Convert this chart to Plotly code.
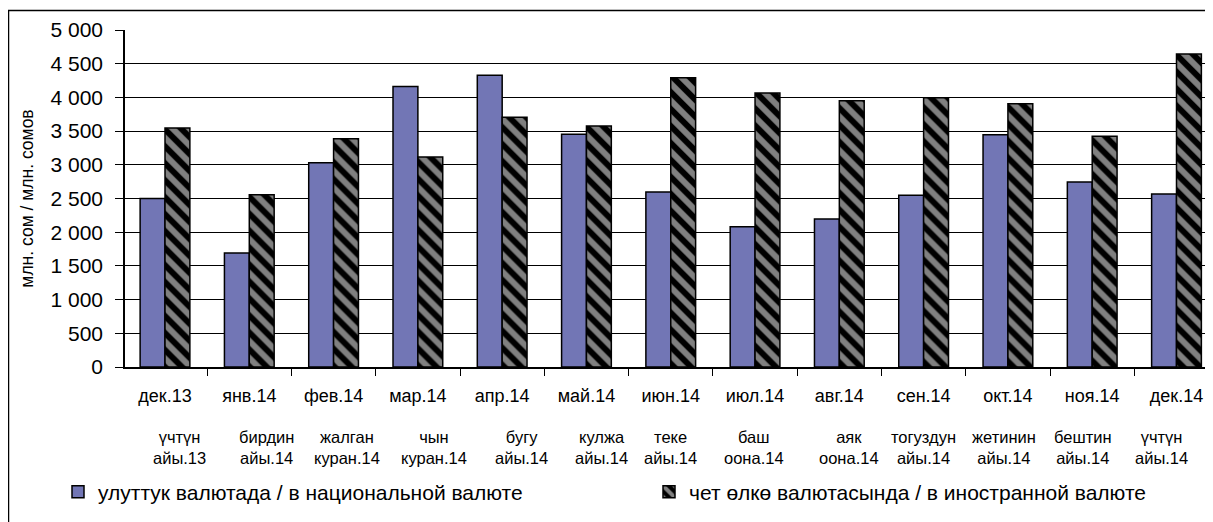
import plotly.graph_objects as go

# ---------------- data ----------------
months = ["дек.13", "янв.14", "фев.14", "мар.14", "апр.14", "май.14", "июн.14",
          "июл.14", "авг.14", "сен.14", "окт.14", "ноя.14", "дек.14"]
months_kg_1 = ["үчтүн", "бирдин", "жалган", "чын", "бугу", "кулжа", "теке",
               "баш", "аяк", "тогуздун", "жетинин", "бештин", "үчтүн"]
months_kg_2 = ["айы.13", "айы.14", "куран.14", "куран.14", "айы.14", "айы.14", "айы.14",
               "оона.14", "оона.14", "айы.14", "айы.14", "айы.14", "айы.14"]
national = [2500, 1690, 3030, 4160, 4330, 3455, 2595, 2080, 2195, 2550, 3445, 2745, 2565]
foreign = [3545, 2555, 3385, 3115, 3705, 3575, 4290, 4065, 3950, 3995, 3905, 3425, 4645]
name_national = "улуттук валютада / в национальной валюте"
name_foreign = "чет өлкө валютасында / в иностранной валюте"
y_title = "млн. сом / млн. сомов"
y_ticks = [0, 500, 1000, 1500, 2000, 2500, 3000, 3500, 4000, 4500, 5000]

# ---------------- layout constants ----------------
OFF = 8                      # page body margin
W, H = 1213, 522
L, R, T, B = 117, 0, 22, 163
PW, PH = W - L - R, H - T - B
FONT = "Liberation Sans, Arial, sans-serif"


def rx(p):
    """paper x for a screen pixel p"""
    return ((p - OFF) - L) / PW


def ry(p):
    """paper y for a screen pixel p"""
    return ((H - B) - (p - OFF)) / PH


# second-row label nudges (pixels)
row2_nudge = [14, 17, 13, 16, 19, 15, 0, -1, 10, 0, -4, -9, -15]

fig = go.Figure()
fig.add_trace(go.Bar(
    x=months, y=national, name=name_national,
    marker=dict(color="#7276B5", line=dict(color="black", width=1.5)),
    legend="legend",
))
fig.add_trace(go.Bar(
    x=months, y=foreign, name=name_foreign,
    marker=dict(color="black", line=dict(color="black", width=1.5),
                pattern=dict(shape="\\", fillmode="overlay", fgcolor="white",
                             size=12, solidity=0.5)),
    legend="legend2",
))

annotations = []
for i, m in enumerate(months):
    annotations.append(dict(x=m, xref="x", y=ry(447), yref="paper",
                            text=months_kg_1[i] + "<br>" + months_kg_2[i],
                            showarrow=False, xshift=row2_nudge[i],
                            yanchor="middle", align="center",
                            font=dict(family=FONT, size=16.5, color="black")))

unit = 84.29
first_c, last_c = 165 - OFF - L, 1176.5 - OFF - L
x_range = [-first_c / unit, (len(months) - 1) + (PW - last_c) / unit]

fig.update_layout(
    width=W, height=H,
    margin=dict(l=L, r=R, t=T, b=B, autoexpand=False),
    paper_bgcolor="white", plot_bgcolor="white",
    font=dict(family=FONT, color="black", size=18),
    separators=", ",
    barmode="group", bargap=0.41, bargroupgap=0,
    xaxis=dict(
        type="category", range=x_range,
        showline=True, linecolor="black", linewidth=1.5,
        ticks="outside", tickson="boundaries", ticklen=7, tickcolor="black", tickwidth=1,
        showgrid=False, tickfont=dict(family=FONT, size=18, color="black"),
        ticklabelstandoff=12,
    ),
    yaxis=dict(
        range=[0, 5000], tickvals=y_ticks, tickformat=",d",
        showline=True, linecolor="black", linewidth=1.5,
        ticks="outside", ticklen=8, tickcolor="black", tickwidth=1,
        showgrid=True, gridcolor="black", gridwidth=1,
        zeroline=False,
        tickfont=dict(family=FONT, size=21, color="black"),
        ticklabelstandoff=8,
        title=dict(text=y_title, font=dict(family=FONT, size=17.5, color="black"), standoff=12),
    ),
    legend=dict(orientation="h", x=rx(58), xanchor="left", y=ry(492), yanchor="middle",
                font=dict(family=FONT, size=21, color="black"), bgcolor="rgba(0,0,0,0)"),
    legend2=dict(orientation="h", x=rx(649), xanchor="left", y=ry(492), yanchor="middle",
                 font=dict(family=FONT, size=21, color="black"), bgcolor="rgba(0,0,0,0)"),
    annotations=annotations,
    shapes=[dict(type="rect", xref="paper", yref="paper",
                 x0=rx(8.5), x1=rx(W + 40), y0=ry(H + 40), y1=ry(10.5),
                 line=dict(color="black", width=1.5), fillcolor="rgba(0,0,0,0)", layer="above")],
    showlegend=True,
)

fig.write_html("out.html")
